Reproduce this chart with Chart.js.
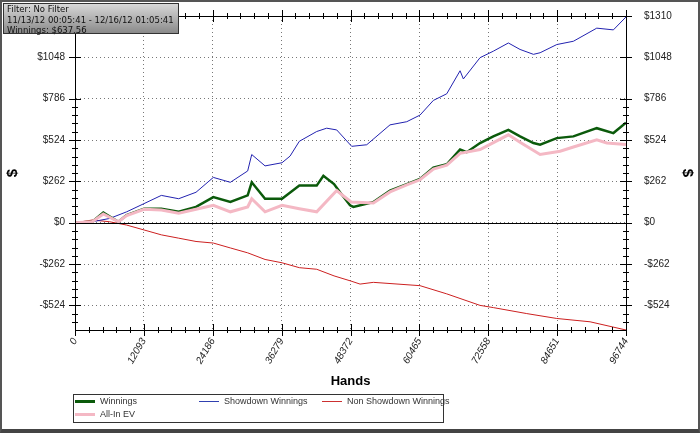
<!DOCTYPE html>
<html><head><meta charset="utf-8">
<script src="https://cdn.jsdelivr.net/npm/chart.js@4/dist/chart.umd.min.js"></script>
<style>
html,body{margin:0;padding:0;background:#fff;}
#wrap{position:relative;width:700px;height:433px;box-sizing:border-box;border:2px solid #555;border-bottom:4px solid #444;font-family:"DejaVu Sans",sans-serif;overflow:hidden;}
canvas{position:absolute;left:-2px;top:-2px;}
#info{position:absolute;left:1px;top:1px;width:176px;height:31px;background:linear-gradient(#d8d8d8,#8a8a8a);border:1px solid #333;font-size:8.5px;line-height:10.5px;padding:0 0 0 3px;box-sizing:border-box;color:#111;}
#legend{position:absolute;left:71px;top:392px;width:369px;height:27px;border:1px solid #333;background:#fff;font-size:9px;color:#333;font-family:"Liberation Sans",Arial,sans-serif;}
.it{position:absolute;white-space:nowrap;}
.sw{display:inline-block;width:20px;vertical-align:middle;margin-right:5px;}
</style></head><body>
<div id="wrap">
<canvas id="c" width="700" height="433"></canvas>
<div id="info">Filter: No Filter<br>11/13/12 00:05:41 - 12/16/12 01:05:41<br>Winnings: $637.56</div>
<div id="legend">
<div class="it" style="left:1px;top:1px"><span class="sw" style="border-top:3px solid #0b5a0b"></span>Winnings</div>
<div class="it" style="left:125px;top:1px"><span class="sw" style="border-top:1px solid #3040b0"></span>Showdown Winnings</div>
<div class="it" style="left:248px;top:1px"><span class="sw" style="border-top:1px solid #cc3030"></span>Non Showdown Winnings</div>
<div class="it" style="left:1px;top:14px"><span class="sw" style="border-top:3px solid #f4b8c4"></span>All-In EV</div>
</div>
</div>
<script>
const xTickLabels=[0,12093,24186,36279,48372,60465,72558,84651,96744];
const yTickValues=[-524,-262,0,262,524,786,1048,1310];

const winX=[0,3040,4970,7610,9070,12120,15160,18200,21250,24290,27280,30320,31030,33370,36350,39390,42440,43610,45480,46530,48290,48880,52390,55310,58250,60580,62920,65270,67610,68780,71120,73450,76090,78140,80490,81660,84590,87510,91610,94530,96744];
const winY=[0,6,64,6,48,89,89,69,100,162,131,173,256,152,152,235,235,297,245,193,110,100,131,204,245,277,349,370,464,447,505,547,588,547,505,495,536,547,599,568,634];

const evX=[0,3040,4970,7610,9070,12120,15160,18200,21250,24290,27280,30320,31030,33370,36350,39390,42440,45950,48470,52390,55310,58250,60580,62920,65270,67610,71120,76090,78140,81660,85170,87510,91610,93370,96744];
const evY=[0,6,55,6,45,85,80,60,85,110,69,100,152,69,110,89,69,204,131,125,195,240,272,340,365,440,464,557,510,432,453,480,526,505,495];

const sdX=[0,3040,6090,9070,12120,15160,18200,21250,24290,27280,30320,31030,33370,36350,37760,39390,42440,44190,45950,48580,51220,55310,58250,60580,62920,65270,67610,68190,71120,73450,76090,78140,80490,81660,84590,87510,91610,94530,96744];
const sdY=[0,6,27,69,121,173,152,193,287,256,328,432,360,380,422,516,578,599,588,484,494,620,640,682,775,817,963,911,1046,1087,1139,1098,1067,1077,1129,1150,1233,1222,1304];

const nsX=[0,3040,6090,9070,12120,15160,18200,21250,24290,27280,30320,33370,36350,39390,42440,45480,48470,50050,52390,60580,65270,71120,73450,79320,84590,90430,96744];
const nsY=[0,17,6,-15,-46,-77,-98,-119,-129,-160,-191,-233,-254,-285,-295,-337,-370,-389,-378,-399,-451,-524,-538,-576,-607,-628,-680];

const pts=(xs,ys)=>xs.map((x,i)=>({x,y:ys[i]}));
const money=v=>v<0?'-$'+Math.abs(v):'$'+v;

const minorTicks={id:'minor',afterDraw(ch){
  const c=ch.ctx,a=ch.chartArea,xs=ch.scales.x,ys=ch.scales.y;
  c.save();c.strokeStyle='#000';c.lineWidth=1;c.beginPath();
  for(let k=-10;k<=25;k++){const v=-524+k*52.4;const y=Math.round(ys.getPixelForValue(v))+0.5;
    if(y<a.top||y>a.bottom)continue;
    c.moveTo(a.left-3,y);c.lineTo(a.left+3,y);c.moveTo(a.right-3,y);c.lineTo(a.right+3,y);}
  yTickValues.forEach(v=>{const y=Math.round(ys.getPixelForValue(v))+0.5;c.moveTo(a.left-6,y);c.lineTo(a.left+6,y);c.moveTo(a.right-6,y);c.lineTo(a.right+6,y);});
  for(let k=0;k<=40;k++){const x=Math.round(xs.getPixelForValue(k*12093/5))+0.5;c.moveTo(x,a.bottom-3);c.lineTo(x,a.bottom+3);c.moveTo(x,a.top-3);c.lineTo(x,a.top+3);}
  xTickLabels.forEach(v=>{const x=Math.round(xs.getPixelForValue(v))+0.5;c.moveTo(x,a.bottom-6);c.lineTo(x,a.bottom+6);c.moveTo(x,a.top-6);c.lineTo(x,a.top+6);});
  c.stroke();
  const y0=Math.round(ys.getPixelForValue(0))+0.5;c.beginPath();c.moveTo(a.left,y0);c.lineTo(a.right,y0);c.stroke();
  c.strokeRect(Math.round(a.left)+0.5,Math.round(a.top)+0.5,Math.round(a.right-a.left),Math.round(a.bottom-a.top));
  c.restore();
}};

new Chart(document.getElementById('c'),{
  type:'line',
  data:{datasets:[
    {data:pts(evX,evY),borderColor:'#f4b8c4',borderWidth:3},
    {data:pts(winX,winY),borderColor:'#0b5a0b',borderWidth:2.5},
    {data:pts(sdX,sdY),borderColor:'#2222b0',borderWidth:1},
    {data:pts(nsX,nsY),borderColor:'#cc2020',borderWidth:1}
  ]},
  options:{responsive:false,animation:false,
    elements:{point:{radius:0},line:{tension:0}},
    layout:{padding:{top:11,left:0,right:0,bottom:0}},
    plugins:{legend:{display:false},tooltip:{enabled:false}},
    scales:{
      x:{type:'linear',min:0,max:96744,
        afterBuildTicks:s=>{s.ticks=xTickLabels.map(v=>({value:v}));},
        afterFit:s=>{s.height=103;},
        ticks:{autoSkip:false,minRotation:60,maxRotation:60,padding:6,color:'#222',font:{family:'Liberation Sans',size:10,style:'italic'},callback:v=>String(v)},
        grid:{color:'#777',drawTicks:false},
        border:{color:'#000',width:1,dash:[1,3]},
        title:{display:true,text:'Hands',color:'#000',font:{family:'Liberation Sans',size:13,weight:'bold'},padding:{top:0,bottom:44}}
      },
      y:{min:-680,max:1310,position:'left',
        afterBuildTicks:s=>{s.ticks=yTickValues.map(v=>({value:v}));},
        afterFit:s=>{s.width=75;},
        ticks:{padding:10,color:'#222',font:{family:'Liberation Sans',size:10},callback:money},
        grid:{color:'#777',drawTicks:false},
        border:{color:'#000',width:1,dash:[1,3]},
        title:{display:true,text:'$',color:'#000',font:{family:'Liberation Sans',size:15,weight:'bold'},padding:{top:4,bottom:0}}
      },
      y2:{min:-680,max:1310,position:'right',
        afterBuildTicks:s=>{s.ticks=yTickValues.map(v=>({value:v}));},
        afterFit:s=>{s.width=74;},
        ticks:{padding:10,color:'#222',font:{family:'Liberation Sans',size:10},callback:money},
        grid:{display:false},
        border:{color:'#000',width:1},
        title:{display:true,text:'$',color:'#000',font:{family:'Liberation Sans',size:15,weight:'bold'},padding:{top:4,bottom:0}}
      }
    }
  },
  plugins:[minorTicks]
});
</script>
</body></html>
